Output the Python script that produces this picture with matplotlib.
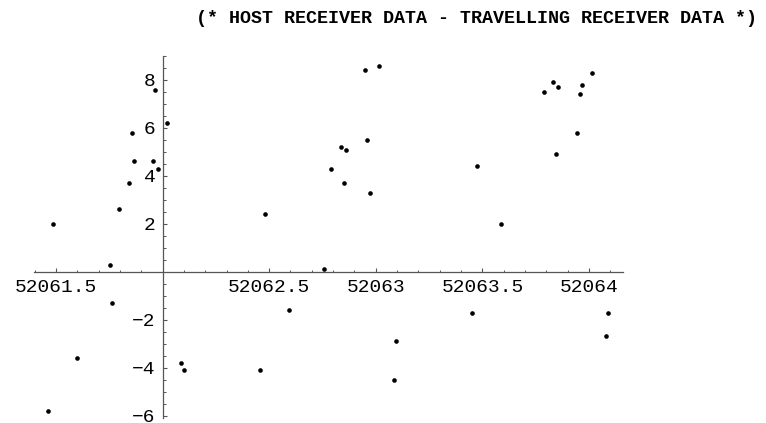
import numpy as np
import matplotlib.pyplot as plt
from matplotlib.ticker import FixedLocator, MultipleLocator

# day number (MJD) and host minus travelling receiver difference
mjd = [52061.965, 52062.021, 52061.856, 52061.866, 52061.954, 52061.978,
       52061.843, 52061.796, 52061.485, 52061.752, 52061.765, 52061.598,
       52061.465, 52062.087, 52062.099, 52062.459,
       52063.015, 52062.949, 52062.958, 52062.838, 52062.862, 52062.791,
       52062.851, 52062.971, 52062.481, 52062.759, 52062.593, 52063.093,
       52063.084,
       52064.012, 52063.832, 52063.967, 52063.856, 52063.787, 52063.956,
       52063.943, 52063.843, 52063.476, 52063.585, 52063.452, 52064.089,
       52064.078]
diff = [7.6, 6.2, 5.8, 4.6, 4.6, 4.3,
        3.7, 2.6, 2.0, 0.3, -1.3, -3.6,
        -5.8, -3.8, -4.1, -4.1,
        8.6, 8.4, 5.5, 5.2, 5.1, 4.3,
        3.7, 3.3, 2.4, 0.1, -1.6, -2.9,
        -4.5,
        8.3, 7.9, 7.8, 7.7, 7.5, 7.4,
        5.8, 4.9, 4.4, 2.0, -1.7, -1.7,
        -2.7]

x_ticks = [52061.5, 52062.5, 52063, 52063.5, 52064]
x_labels = ['52061.5', '52062.5', '52063', '52063.5', '52064']
y_ticks = [-6, -4, -2, 2, 4, 6, 8]

mono = 'Liberation Mono'
axis_col = '#555555'

fig = plt.figure(figsize=(7.66, 4.23), dpi=100)
ax = fig.add_axes([0.0448, 0.0118, 0.768, 0.8558])

ax.scatter(mjd, diff, s=11, color='black', linewidths=0, zorder=3)

ax.set_xlim(52061.399, 52064.157)
ax.set_ylim(-6.1, 9.0)

# axes cross at (52062, 0)
ax.spines['left'].set_position(('data', 52062))
ax.spines['bottom'].set_position(('data', 0))
ax.spines['top'].set_visible(False)
ax.spines['right'].set_visible(False)
for s in ('left', 'bottom'):
    ax.spines[s].set_color(axis_col)
    ax.spines[s].set_linewidth(0.9)

ax.xaxis.set_major_locator(FixedLocator(x_ticks))
ax.set_xticklabels(x_labels)
ax.xaxis.set_minor_locator(MultipleLocator(0.1))
ax.yaxis.set_major_locator(FixedLocator(y_ticks))
ax.yaxis.set_minor_locator(MultipleLocator(0.5))

ax.tick_params(which='major', direction='in', length=3, width=0.8,
               color=axis_col, labelsize=14)
ax.tick_params(which='minor', direction='in', length=1.8, width=0.7,
               color=axis_col)
ax.tick_params(axis='x', pad=5)
ax.tick_params(axis='y', pad=5)
for lab in ax.get_xticklabels() + ax.get_yticklabels():
    lab.set_family(mono)

fig.text(0.6227, 0.957, '(* HOST RECEIVER DATA - TRAVELLING RECEIVER DATA *)',
         ha='center', va='center', family=mono, weight='bold', fontsize=13.2)

fig.savefig('out.png', dpi=100)
